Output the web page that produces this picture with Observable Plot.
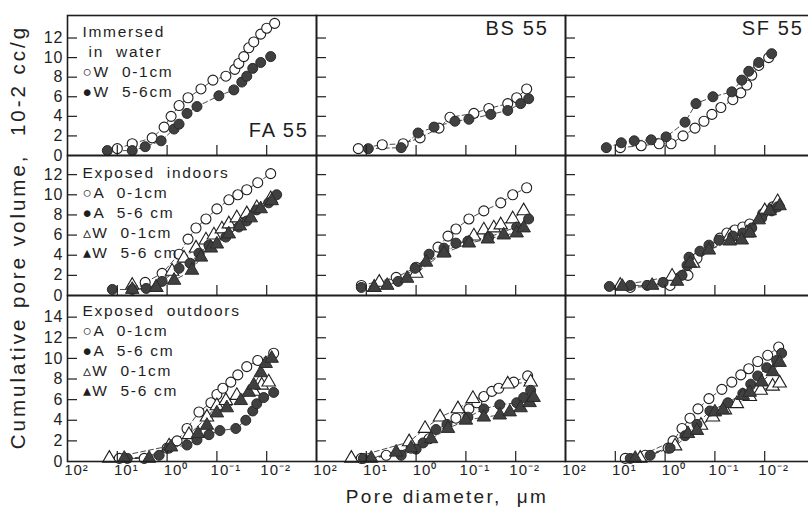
<!DOCTYPE html>
<html><head><meta charset="utf-8">
<script src="https://cdn.jsdelivr.net/npm/d3@7"></script>
<script src="https://cdn.jsdelivr.net/npm/@observablehq/plot@0.6"></script>
<style>
html,body{margin:0;padding:0;background:#fff;overflow:hidden}
#wrap{position:relative;width:808px;height:512px;overflow:hidden;font-family:"Liberation Sans",Arial,Helvetica,sans-serif;color:#222;background:#fff}
#wrap svg{position:absolute;left:0}
#wrap svg text{letter-spacing:1px}
#wrap svg g[aria-label="text"] text{letter-spacing:1.7px}
.ytitle{position:absolute;left:-227px;top:224px;width:490px;height:26px;line-height:26px;text-align:center;font-size:20.5px;letter-spacing:3px;transform:rotate(-90deg);transform-origin:50% 50%;white-space:pre}
.xtitle{position:absolute;left:297px;top:485px;width:300px;height:24px;line-height:24px;text-align:center;font-size:19px;letter-spacing:2.3px;white-space:pre}
</style></head>
<body><div id="wrap"></div>
<script>
// ---- labels ----
const columns = ["FA 55", "BS 55", "SF 55"];
const rowNames = ["Immersed in water", "Exposed indoors", "Exposed outdoors"];
const xTicks = [100, 10, 1, 0.1, 0.01];
const xTickLabels = ["10²", "10¹", "10⁰", "10⁻¹", "10⁻²"];
const xInnerTicks = [10, 1, 0.1, 0.01];
const yTicksRow1 = [0, 2, 4, 6, 8, 10, 12];
const yTicksRow2 = [0, 2, 4, 6, 8, 10, 12];
const yTicksRow3 = [0, 2, 4, 6, 8, 10, 12, 14];
const yTitle = "Cumulative pore volume,  10-2 cc/g";
const xTitle = "Pore diameter,  μm";
const legendRow1 = "Immersed\n in  water\n○W  0-1cm\n●W  5-6cm";
const legendRow2 = "Exposed  indoors\n○A  0-1cm\n●A  5-6 cm\n▵W  0-1cm\n▴W  5-6 cm";
const legendRow3 = "Exposed  outdoors\n○A  0-1cm\n●A  5-6 cm\n▵W  0-1cm\n▴W  5-6 cm";

// ---- data: [log10 pore diameter (µm), cumulative pore volume (10^-2 cc/g)] ----
// Immersed in water
const fa_water_W01 = [[1.0,0.7],[0.7,1.2],[0.3,1.8],[0.06,2.9],[-0.08,4.0],[-0.24,5.1],[-0.42,5.9],[-0.68,6.8],[-0.92,7.7],[-1.18,8.1],[-1.36,8.8],[-1.44,9.4],[-1.54,10.1],[-1.64,11.0],[-1.74,11.6],[-1.88,12.4],[-2.0,13.0],[-2.16,13.5]];
const fa_water_W56 = [[1.2,0.5],[0.7,0.5],[0.44,0.9],[0.12,1.5],[-0.14,2.7],[-0.24,3.2],[-0.4,4.3],[-0.6,5.0],[-1.04,6.1],[-1.34,6.7],[-1.5,7.5],[-1.6,8.1],[-1.72,8.9],[-1.88,9.5],[-2.08,10.1]];
const bs_water_W01 = [[1.16,0.7],[0.68,1.1],[0.26,1.2],[-0.08,1.8],[-0.46,2.8],[-0.68,3.9],[-1.16,4.3],[-1.46,4.8],[-1.84,5.3],[-2.02,5.9],[-2.22,6.8]];
const bs_water_W56 = [[0.96,0.7],[0.3,0.8],[-0.04,2.3],[-0.36,2.9],[-0.78,3.5],[-1.06,3.7],[-1.5,4.2],[-1.84,4.6],[-2.1,5.3],[-2.26,5.8]];
const sf_water_W01 = [[0.9,0.8],[0.48,1.0],[0.12,1.2],[-0.12,1.2],[-0.36,2.0],[-0.6,2.8],[-0.78,3.5],[-0.94,4.2],[-1.12,4.9],[-1.36,5.7],[-1.52,6.4],[-1.64,7.2],[-1.74,8.2],[-1.88,9.2],[-2.08,10.0]];
const sf_water_W56 = [[1.18,0.8],[0.88,1.3],[0.62,1.5],[0.28,1.6],[-0.02,1.9],[-0.4,3.4],[-0.62,5.3],[-0.96,6.0],[-1.34,6.5],[-1.54,7.7],[-1.68,8.6],[-1.88,9.5],[-2.14,10.4]];
// Exposed indoors
const fa_in_A01 = [[0.44,1.3],[0.1,2.2],[-0.24,4.1],[-0.42,5.6],[-0.58,6.7],[-0.78,7.6],[-1.0,8.6],[-1.24,9.5],[-1.42,10.0],[-1.6,10.5],[-1.82,11.2],[-2.08,12.1]];
const fa_in_A56 = [[1.1,0.6],[0.7,0.6],[0.42,0.7],[0.1,1.4],[-0.24,2.7],[-0.46,3.2],[-0.64,4.2],[-0.84,5.0],[-1.18,5.8],[-1.44,6.8],[-1.6,7.4],[-1.8,8.5],[-2.04,9.2],[-2.2,10.0]];
const fa_in_W01 = [[0.7,1.0],[0.22,0.8],[-0.1,2.4],[-0.34,3.7],[-0.58,4.7],[-0.78,5.5],[-0.94,6.0],[-1.1,6.6],[-1.24,7.1],[-1.4,7.7],[-1.6,8.1],[-1.8,8.7],[-2.08,9.6]];
const fa_in_W56 = [[0.7,0.6],[0.22,0.8],[-0.14,1.5],[-0.5,2.5],[-0.68,3.8],[-0.88,4.7],[-1.0,5.1],[-1.24,6.1],[-1.46,6.9],[-1.68,7.7],[-1.88,8.6],[-2.1,9.4]];
const bs_in_A01 = [[1.1,1.0],[0.4,1.8],[0.0,2.8],[-0.44,4.8],[-0.64,5.9],[-0.8,6.6],[-1.06,7.6],[-1.36,8.4],[-1.7,9.2],[-1.94,10.0],[-2.22,10.7]];
const bs_in_A56 = [[1.1,0.8],[0.36,1.4],[0.02,2.7],[-0.26,4.1],[-0.56,4.7],[-0.8,5.2],[-1.04,5.4],[-1.46,5.8],[-2.02,6.8],[-2.26,7.6]];
const bs_in_W01 = [[0.84,0.8],[0.74,1.3],[0.0,2.2],[-0.56,4.3],[-1.16,5.9],[-1.36,6.5],[-1.56,6.7],[-1.7,7.0],[-1.94,7.6],[-2.16,8.4]];
const bs_in_W56 = [[0.84,0.8],[0.58,1.0],[0.18,1.7],[-0.2,3.3],[-0.56,4.2],[-1.06,5.2],[-1.44,5.6],[-1.76,6.0],[-2.02,6.2],[-2.16,6.7]];
const sf_in_A01 = [[0.7,0.8],[-0.1,1.0],[-0.46,2.0],[-0.64,3.7],[-1.1,5.7],[-1.24,6.2],[-1.4,6.5],[-1.56,6.8],[-1.7,7.1],[-1.96,8.1],[-2.16,8.8]];
const sf_in_A56 = [[1.12,0.9],[0.7,1.0],[0.36,1.0],[0.04,1.3],[-0.34,2.0],[-0.44,3.0],[-0.48,3.8],[-0.7,4.4],[-0.88,5.0],[-1.08,5.5],[-1.36,5.9],[-1.56,6.2],[-1.74,6.7],[-1.94,7.7],[-2.14,8.4],[-2.26,8.8]];
const sf_in_W01 = [[0.9,1.0],[-0.14,1.9],[-0.56,3.2],[-1.3,5.9],[-1.64,6.2],[-2.0,8.4],[-2.26,9.3]];
const sf_in_W56 = [[0.86,0.9],[0.26,1.0],[-0.24,1.4],[-0.5,3.2],[-0.88,4.5],[-1.3,5.4],[-1.54,5.5],[-1.7,6.2],[-1.88,7.5],[-2.1,8.4],[-2.3,8.9]];
// Exposed outdoors
const fa_out_A01 = [[0.96,0.3],[0.46,0.3],[0.0,1.3],[-0.2,2.0],[-0.4,3.2],[-0.64,4.8],[-0.88,5.7],[-1.0,6.5],[-1.12,7.1],[-1.28,7.7],[-1.42,8.4],[-1.6,9.2],[-1.82,9.8],[-2.14,10.5]];
const fa_out_A56 = [[0.8,0.3],[0.16,0.6],[-0.04,1.3],[-0.4,1.6],[-0.6,2.1],[-0.84,2.6],[-1.06,3.0],[-1.38,3.2],[-1.58,4.0],[-1.72,4.9],[-1.8,5.6],[-1.94,6.2],[-2.14,6.7]];
const fa_out_W01 = [[1.16,0.3],[-0.04,1.5],[-0.44,2.6],[-0.8,4.3],[-1.0,5.4],[-1.18,5.9],[-1.4,6.4],[-1.74,6.8],[-1.9,7.4],[-2.04,7.7]];
const fa_out_W56 = [[0.86,0.3],[0.36,0.3],[-0.08,1.4],[-0.62,2.7],[-0.8,3.5],[-1.0,4.7],[-1.2,5.2],[-1.48,5.9],[-1.64,6.7],[-1.74,7.4],[-1.88,8.6],[-1.98,9.5],[-2.1,10.0]];
const bs_out_A01 = [[1.1,0.3],[0.6,0.6],[0.1,1.3],[-0.26,2.2],[-0.8,4.2],[-1.06,5.1],[-1.22,5.7],[-1.36,6.3],[-1.52,6.8],[-1.66,7.1],[-1.96,7.7],[-2.24,8.3]];
const bs_out_A56 = [[1.06,0.3],[0.3,0.6],[0.0,1.2],[-0.14,1.8],[-0.4,3.1],[-0.62,3.6],[-1.04,4.3],[-1.36,5.1],[-1.68,5.5],[-2.02,5.7],[-2.16,6.2],[-2.3,6.9]];
const bs_out_W01 = [[1.3,0.3],[0.14,1.9],[-0.18,3.2],[-0.48,4.3],[-0.84,5.1],[-1.14,6.1],[-1.84,7.5],[-2.3,7.7]];
const bs_out_W56 = [[0.9,0.3],[0.4,0.9],[0.1,1.3],[-0.3,2.2],[-0.64,3.2],[-1.0,4.0],[-1.36,4.3],[-1.68,4.5],[-1.88,4.8],[-2.1,5.2],[-2.28,5.7],[-2.36,6.2]];
const sf_out_A01 = [[0.8,0.3],[0.4,0.6],[-0.06,1.3],[-0.16,2.0],[-0.34,3.2],[-0.5,4.2],[-0.66,5.1],[-0.88,6.1],[-1.14,7.0],[-1.34,7.7],[-1.52,8.4],[-1.68,9.0],[-1.86,9.7],[-2.06,10.3],[-2.28,11.1]];
const sf_out_A56 = [[0.7,0.3],[0.3,0.6],[-0.1,1.3],[-0.4,2.5],[-0.64,3.6],[-0.9,4.9],[-1.26,5.7],[-1.56,6.6],[-1.72,7.5],[-1.86,8.3],[-2.04,9.1],[-2.24,9.8],[-2.34,10.5]];
const sf_out_W01 = [[0.5,0.3],[-0.2,1.5],[-0.72,3.5],[-0.96,4.3],[-1.2,5.0],[-1.44,5.6],[-1.7,6.3],[-1.92,6.9],[-2.16,7.3],[-2.3,7.6]];
const sf_out_W56 = [[0.6,0.3],[-0.46,2.7],[-0.64,3.0],[-1.0,4.8],[-1.16,5.0],[-1.56,6.4],[-1.7,6.7],[-1.94,7.7],[-2.16,8.7],[-2.3,9.6]];

// ---- build table ----
const table = [];
function add(row, col, series, kind, pts) {
  for (const [e, v] of pts) table.push({row, col, series: col + "|" + series, kind, d: Math.pow(10, e), v});
}
add(0, "FA 55", "W01", "oc", fa_water_W01); add(0, "FA 55", "W56", "fc", fa_water_W56);
add(0, "BS 55", "W01", "oc", bs_water_W01); add(0, "BS 55", "W56", "fc", bs_water_W56);
add(0, "SF 55", "W01", "oc", sf_water_W01); add(0, "SF 55", "W56", "fc", sf_water_W56);
add(1, "FA 55", "A01", "oc", fa_in_A01); add(1, "FA 55", "A56", "fc", fa_in_A56);
add(1, "FA 55", "W01", "ot", fa_in_W01); add(1, "FA 55", "W56", "ft", fa_in_W56);
add(1, "BS 55", "A01", "oc", bs_in_A01); add(1, "BS 55", "A56", "fc", bs_in_A56);
add(1, "BS 55", "W01", "ot", bs_in_W01); add(1, "BS 55", "W56", "ft", bs_in_W56);
add(1, "SF 55", "A01", "oc", sf_in_A01); add(1, "SF 55", "A56", "fc", sf_in_A56);
add(1, "SF 55", "W01", "ot", sf_in_W01); add(1, "SF 55", "W56", "ft", sf_in_W56);
add(2, "FA 55", "A01", "oc", fa_out_A01); add(2, "FA 55", "A56", "fc", fa_out_A56);
add(2, "FA 55", "W01", "ot", fa_out_W01); add(2, "FA 55", "W56", "ft", fa_out_W56);
add(2, "BS 55", "A01", "oc", bs_out_A01); add(2, "BS 55", "A56", "fc", bs_out_A56);
add(2, "BS 55", "W01", "ot", bs_out_W01); add(2, "BS 55", "W56", "ft", bs_out_W56);
add(2, "SF 55", "A01", "oc", sf_out_A01); add(2, "SF 55", "A56", "fc", sf_out_A56);
add(2, "SF 55", "W01", "ot", sf_out_W01); add(2, "SF 55", "W56", "ft", sf_out_W56);

const INK = "#1e1e1e";
const DARK = "#404040";
const FONT = '"Liberation Sans", Arial, Helvetica, sans-serif';

function rowPlot(r, cfg) {
  const data = table.filter(t => t.row === r);
  const sel = k => data.filter(t => t.kind === k);
  const marks = [
    Plot.line(data, {x: "d", y: "v", z: "series", fx: "col", stroke: INK, strokeWidth: 0.8, strokeDasharray: "5,3"}),
    Plot.dot(sel("oc"), {x: "d", y: "v", fx: "col", r: 5, fill: "white", stroke: INK, strokeWidth: 1.1}),
    Plot.dot(sel("ot"), {x: "d", y: "v", fx: "col", symbol: "triangle", r: 5, fill: "white", stroke: INK, strokeWidth: 1.1}),
    Plot.dot(sel("fc"), {x: "d", y: "v", fx: "col", r: 5, fill: DARK, stroke: "#2a2a2a", strokeWidth: 1}),
    Plot.dot(sel("ft"), {x: "d", y: "v", fx: "col", symbol: "triangle", r: 5, fill: DARK, stroke: "#2a2a2a", strokeWidth: 1}),
    Plot.axisY({ticks: cfg.yTicks.filter(v => v > 0), tickSize: -10, fill: "none", stroke: INK, strokeWidth: 1.2, facetAnchor: null, label: null}),
    Plot.axisY({ticks: cfg.yTicks, tickSize: 0, tickPadding: 4, fontSize: 16, fill: INK, label: null}),
    Plot.axisX({ticks: xInnerTicks, tickSize: -10, fill: "none", stroke: INK, strokeWidth: 1.2, label: null}),
    Plot.frame({stroke: INK, strokeWidth: 1.6}),
    Plot.text([{col: "FA 55", t: cfg.legend}], {fx: "col", text: "t", frameAnchor: "top-left", textAnchor: "start", lineAnchor: "top", dx: 15, dy: cfg.legendDy, fontSize: 15.5, lineHeight: 1.3, fill: INK})
  ];
  if (cfg.xLabels) marks.push(Plot.axisX({ticks: xTicks, tickSize: 0, tickPadding: 3, dx: 9, fontSize: 15, fill: INK, label: null,
    tickFormat: d => xTickLabels[xTicks.indexOf(d)]}));
  if (cfg.panelLabels) {
    marks.push(Plot.text([{col: "FA 55"}], {fx: "col", text: "col", frameAnchor: "bottom-right", dx: -8, dy: -19, fontSize: 20, fill: INK}));
    marks.push(Plot.text([{col: "BS 55"}], {fx: "col", text: "col", frameAnchor: "top-right", dx: -17, dy: 5, fontSize: 20, fill: INK}));
    marks.push(Plot.text([{col: "SF 55"}], {fx: "col", text: "col", frameAnchor: "top-right", dx: -11, dy: 5, fontSize: 20, fill: INK}));
  }
  const svg = Plot.plot({
    width: 814, height: cfg.height,
    marginLeft: 67, marginRight: 0, marginTop: cfg.mt, marginBottom: cfg.mb,
    style: {background: "transparent", overflow: "visible", maxWidth: "none", fontFamily: FONT, color: INK},
    fx: {domain: columns, padding: 0, axis: null},
    x: {type: "log", domain: [100, 0.001], axis: null},
    y: {domain: [0, cfg.ymax], axis: null},
    marks
  });
  svg.style.top = cfg.top + "px";
  return svg;
}

const wrap = document.getElementById("wrap");
wrap.appendChild(rowPlot(0, {top: 0, height: 165, mt: 15, mb: 10, ymax: 14.3, yTicks: yTicksRow1, legend: legendRow1, legendDy: 7, panelLabels: true}));
wrap.appendChild(rowPlot(1, {top: 145, height: 160, mt: 10, mb: 10, ymax: 13.9, yTicks: yTicksRow2, legend: legendRow2, legendDy: 8}));
wrap.appendChild(rowPlot(2, {top: 285, height: 227, mt: 10, mb: 51, ymax: 16.1, yTicks: yTicksRow3, legend: legendRow3, legendDy: 6, xLabels: true}));

const yt = document.createElement("div"); yt.className = "ytitle"; yt.textContent = yTitle; wrap.appendChild(yt);
const xt = document.createElement("div"); xt.className = "xtitle"; xt.textContent = xTitle; wrap.appendChild(xt);
</script>
</body></html>
